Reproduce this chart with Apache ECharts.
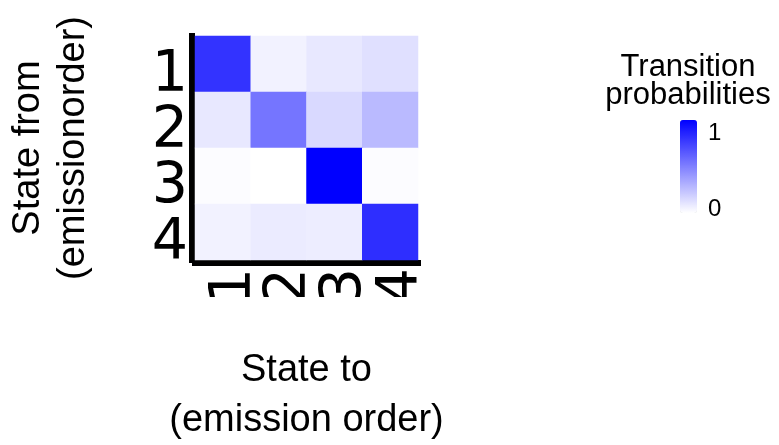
<!DOCTYPE html>
<html>
<head>
<meta charset="utf-8">
<title>Transition probabilities</title>
<script src="https://cdn.jsdelivr.net/npm/echarts@6/dist/echarts.min.js"></script>
<style>
  html, body { margin: 0; padding: 0; background: #ffffff; }
  #chart { width: 779px; height: 445px; }
</style>
</head>
<body>
<div id="chart"></div>
<script>
// States in emission order
const statesFrom = ['1', '2', '3', '4'];
const statesTo = ['1', '2', '3', '4'];

// Transition probability matrix, one array per "from" state
const fromState1 = [0.80, 0.05, 0.09, 0.12];
const fromState2 = [0.09, 0.54, 0.15, 0.27];
const fromState3 = [0.01, 0.00, 1.00, 0.01];
const fromState4 = [0.05, 0.08, 0.07, 0.82];

// Colour bar tick labels
const legendTicks = [0, 1];

const rows = [fromState1, fromState2, fromState3, fromState4];
const cells = [];
rows.forEach((row, i) => {
  row.forEach((p, j) => cells.push([j, i, p]));
});

const sansFont = '"Liberation Sans", Arial, Helvetica, sans-serif';

// colour bar geometry
const barLeft = 680, barTop = 120, barWidth = 17, barHeight = 93;
const tickY0 = 209, tickY1 = 133;   // vertical positions of value 0 and value 1

const chart = echarts.init(document.getElementById('chart'), null, { renderer: 'canvas' });

chart.setOption({
  animation: false,
  backgroundColor: '#ffffff',
  grid: {
    left: 195, top: 36, right: 361, bottom: 185,
    containLabel: false,
    outerBoundsMode: 'none'
  },
  xAxis: {
    type: 'category',
    data: statesTo,
    offset: 3,
    axisLine: { show: true, lineStyle: { color: '#000000', width: 6, cap: 'square' } },
    axisTick: { show: false },
    splitLine: { show: false },
    axisLabel: {
      interval: 0,
      rotate: 90,
      margin: 5,
      color: '#000000',
      fontFamily: 'DejaVu Sans',
      fontSize: 57,
      verticalAlign: 'top',
      lineHeight: 24
    },
    name: 'State to\n(emission order)',
    nameLocation: 'middle',
    nameGap: 83,
    nameTextStyle: { fontFamily: sansFont, fontSize: 38, color: '#000000', lineHeight: 50 }
  },
  yAxis: {
    type: 'category',
    data: statesFrom,
    inverse: true,
    offset: 3,
    axisLine: { show: true, lineStyle: { color: '#000000', width: 6, cap: 'square' } },
    axisTick: { show: false },
    splitLine: { show: false },
    axisLabel: {
      interval: 0,
      margin: 4,
      color: '#000000',
      fontFamily: 'DejaVu Sans',
      fontSize: 57,
      verticalAlign: 'top',
      lineHeight: 24
    },
    name: 'State from\n(emissionorder)',
    nameLocation: 'middle',
    nameGap: 96,
    nameTextStyle: { fontFamily: sansFont, fontSize: 38, color: '#000000', lineHeight: 45 }
  },
  visualMap: {
    type: 'continuous',
    min: 0,
    max: 1,
    calculable: false,
    orient: 'vertical',
    left: barLeft,
    top: barTop,
    padding: 0,
    itemWidth: barWidth,
    itemHeight: barHeight,
    text: null,
    showLabel: false,
    inRange: { color: ['#ffffff', '#0000ff'] }
  },
  graphic: [
    // the tick labels under the axis are clipped at the panel edge
    {
      type: 'rect', z: 100, silent: true,
      shape: { x: 150, y: 297, width: 300, height: 50 },
      style: { fill: '#ffffff' }
    },
    {
      type: 'text', z: 100,
      style: {
        text: 'Transition\nprobabilities',
        x: 688, y: 53,
        align: 'center', verticalAlign: 'top',
        font: '31px ' + sansFont, lineHeight: 28, fill: '#000000'
      }
    }
  ].concat(legendTicks.map(v => ({
    type: 'text', z: 100,
    style: {
      text: String(v),
      x: 708,
      y: tickY0 + (tickY1 - tickY0) * v,
      align: 'left', verticalAlign: 'middle',
      font: '24px ' + sansFont, fill: '#000000'
    }
  }))),
  series: [{
    type: 'heatmap',
    data: cells,
    emphasis: { disabled: true },
    itemStyle: { borderWidth: 0 }
  }]
});
</script>
</body>
</html>
